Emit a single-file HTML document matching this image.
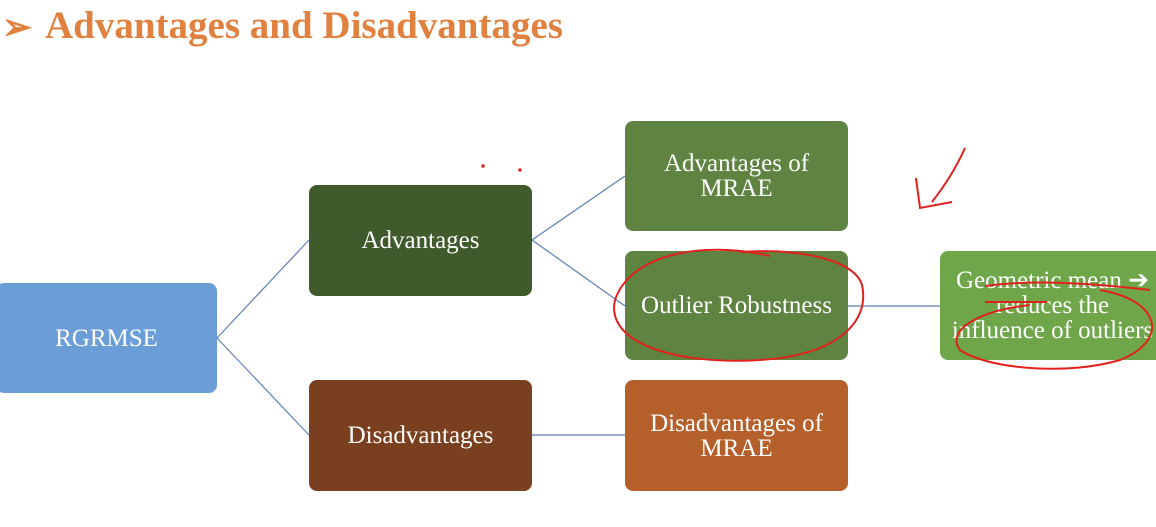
<!DOCTYPE html>
<html><head><style>
body{margin:0;width:1156px;height:527px;background:#fff;position:relative;overflow:hidden;font-family:"Liberation Serif",serif}
.b{position:absolute;border-radius:8px;color:#fff;display:flex;align-items:center;justify-content:center;text-align:center;font-size:25px;line-height:25px}
.t{position:absolute;left:45px;top:3px;font-size:39px;font-weight:bold;color:#e0813f}
.a{position:absolute;left:2px;top:6px;font-size:36px;color:#e0813f;font-weight:bold}
</style></head><body>
<div class="a">➢</div>
<div class="t">Advantages and Disadvantages</div>
<svg width="1156" height="527" style="position:absolute;left:0;top:0">
<g stroke="#5b7fb5" stroke-width="1.2">
<line x1="217" y1="338" x2="309" y2="240"/><line x1="217" y1="338" x2="309" y2="435"/>
<line x1="532" y1="240" x2="625" y2="176"/><line x1="532" y1="240" x2="625" y2="306"/>
<line x1="532" y1="435" x2="625" y2="435"/><line x1="848" y1="306" x2="940" y2="306"/>
</g></svg>
<div class="b" style="left:-4px;top:283px;width:221px;height:110px;background:#6b9dd7">RGRMSE</div>
<div class="b" style="left:309px;top:185px;width:223px;height:111px;background:#3f5a2b">Advantages</div>
<div class="b" style="left:309px;top:380px;width:223px;height:111px;background:#7a3f1e">Disadvantages</div>
<div class="b" style="left:625px;top:121px;width:223px;height:110px;background:#5f8441">Advantages of<br>MRAE</div>
<div class="b" style="left:625px;top:251px;width:223px;height:109px;background:#5f8441">Outlier Robustness</div>
<div class="b" style="left:625px;top:380px;width:223px;height:111px;background:#b55f2b">Disadvantages of<br>MRAE</div>
<div class="b" style="left:940px;top:251px;width:225px;height:109px;background:#6fa64a;white-space:nowrap">Geometric mean ➔<br>reduces the<br>influence of outliers</div>
<svg width="1156" height="527" style="position:absolute;left:0;top:0" fill="none" stroke="#e0221e" stroke-width="2">
<path d="M770 256 C700 240 630 255 615 300 C605 345 680 365 760 360 C840 355 870 320 862 285 C855 260 800 248 740 252"/>
<path d="M965 148 C955 170 945 185 932 202"/><path d="M916 178 L920 208 L952 202"/>
<path d="M985 286 C1030 280 1080 282 1150 290 M985 302 L1047 302"/>
<path d="M1100 290 C1160 300 1170 340 1120 360 C1070 375 990 370 960 350 C945 330 980 310 1030 305"/>
<circle cx="483" cy="166" r="0.8"/><circle cx="520" cy="170" r="0.8"/>
</svg>
</body></html>
